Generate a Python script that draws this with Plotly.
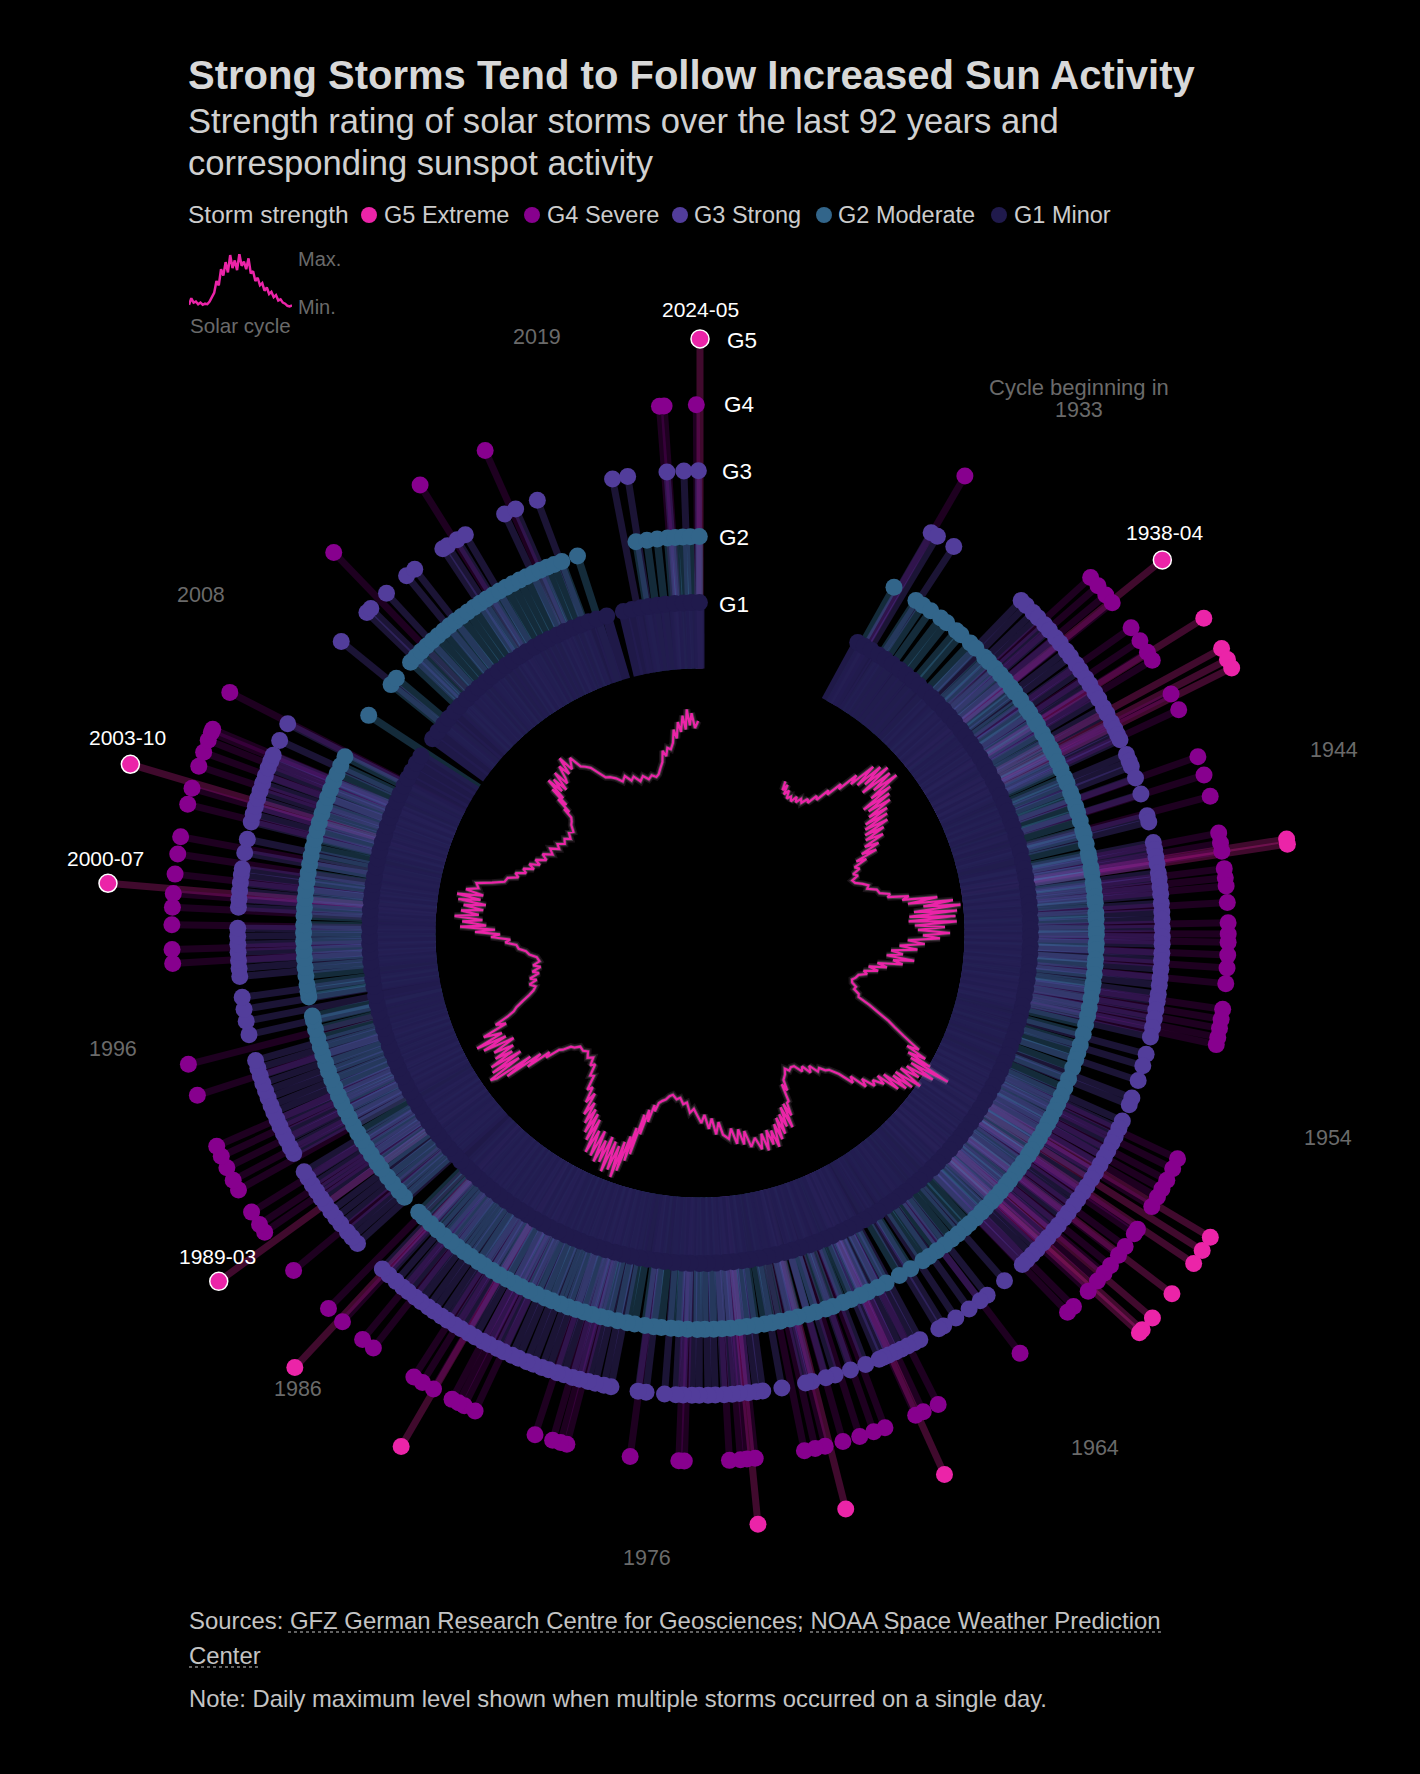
import plotly.graph_objects as go

W = 1420
H = 1774

# storm dates as angle on the circle, degrees clockwise from the top
storm_g5 = [58.0, 61.4, 62.6, 63.5, 80.9, 81.4, 120.8, 122.3, 123.8, 127.4, 130.4, 131.9, 132.3,
            155.7, 165.8, 174.4, 210.2, 223.0]
storm_g5_dated = [51.1, 234.1, 274.8, 286.5, 360.0]

storm_g4 = [30.1, 47.7, 48.9, 50.2, 51.3, 54.7, 56.4, 57.9, 58.9, 63.1, 65.0, 70.5, 72.6, 75.0, 79.1, 80.2, 81.1,
            83.0, 84.0, 84.9, 86.7, 88.9, 90.1, 91.0, 92.4, 93.8, 95.5, 98.3, 99.4, 100.4, 101.4, 102.2,
            115.3, 116.5, 117.9, 119.0, 120.0, 121.2, 124.1, 124.7, 126.4, 127.6, 129.0, 130.1, 131.2, 132.7,
            135.0, 135.9, 142.7, 153.2, 155.0, 155.9, 159.5, 160.8, 162.4, 164.3, 166.3, 167.4, 168.6,
            174.0, 174.9, 175.6, 176.8, 181.7, 182.3, 187.6, 194.6, 195.3, 196.2, 198.2,
            205.2, 206.5, 207.2, 208.0, 210.3, 211.7, 212.8, 218.2, 219.7, 222.6, 224.7, 230.3,
            235.5, 236.5, 238.1, 240.9, 242.1, 243.6, 245.0, 246.2, 252.1, 255.6, 266.7, 268.2,
            270.9, 272.8, 274.3, 276.4, 278.6, 280.5, 284.1, 285.9, 288.4, 290.0, 291.4, 292.3, 292.7,
            297.1, 316.1, 328.0, 336.0, 355.6, 356.1, 359.6]

storm_g3 = [30.0, 30.9, 33.3,
            44.0, 44.9, 46.1, 47.0, 48.2, 49.1, 50.3, 51.2, 52.4, 53.3, 54.5, 55.4, 56.6, 57.5, 58.7, 59.6, 60.8,
            61.7, 62.9, 63.8, 64.6, 65.3, 67.3, 68.2, 68.9, 70.4, 72.5, 75.3, 76.1,
            78.7, 79.6, 80.5, 81.4, 82.5, 83.3, 84.3, 85.2, 86.3, 87.4, 88.3, 89.4, 90.5, 91.4, 92.5, 93.4, 94.5,
            95.6, 96.5, 97.6, 98.5, 99.6, 100.7, 101.8, 103.0, 105.2, 106.7, 108.6, 110.9, 111.8,
            114.0, 115.0, 116.1, 117.0, 118.1, 119.0, 120.1, 121.2, 122.1, 123.2, 124.1, 125.2, 126.1, 127.2,
            128.1, 129.2, 130.1, 131.2, 132.1, 133.2, 134.1, 135.0, 135.8,
            138.8, 141.6, 142.7, 144.4, 146.4, 148.2, 148.9,
            151.6, 152.4, 153.3, 154.2, 155.0, 155.9, 156.6, 157.2, 159.0, 161.0, 163.0, 164.2, 166.0, 166.8, 169.8,
            172.2, 173.0, 174.0, 175.1, 176.0, 177.0, 178.1, 179.0, 180.1, 181.0, 182.1, 183.0, 184.4, 186.7, 187.7,
            191.1, 192.0, 193.1, 194.0, 195.1, 196.0, 197.1, 198.0, 199.1, 200.0, 201.1, 202.0, 203.1, 204.0, 205.1,
            206.0, 207.1, 208.0, 209.1, 210.0, 211.1, 212.0, 213.1, 214.0, 215.1, 216.0, 217.1, 218.0, 219.1, 220.0,
            221.1, 222.3, 223.4,
            227.8, 228.8, 229.7, 231.0, 232.0, 233.0, 234.1, 235.0, 236.0, 237.0, 238.0, 238.9,
            241.5, 242.4, 243.4, 244.3, 245.3, 246.2, 247.2, 248.1, 249.1, 250.0, 251.0, 252.0, 253.0, 254.0,
            257.3, 259.0, 260.5, 262.0, 264.6, 265.6, 266.6, 267.6, 268.6, 269.6, 270.6,
            273.2, 274.2, 275.2, 276.2, 277.2, 278.0, 280.0, 281.7,
            283.9, 284.9, 285.9, 286.9, 287.9, 288.9, 289.9, 290.9, 291.8, 292.6, 294.6, 296.9,
            309.1, 313.9, 314.6, 317.3, 320.6, 321.9, 326.2, 326.9, 328.3, 329.5, 335.0, 336.5, 339.4,
            349.1, 351.0, 355.9, 358.0, 359.8]

storm_g2 = [29.3,
            33.0, 34.2, 35.6, 37.4, 38.5, 40.3, 41.2, 43.0, 44.1, 45.9, 46.8, 48.1, 49.3, 50.4, 51.7, 52.6, 54.0, 55.5,
            56.3, 57.6, 58.4, 59.8, 61.0, 62.2, 63.1, 64.4, 65.6, 66.9, 67.8, 69.2, 70.1, 71.4, 72.3, 73.6, 74.9, 75.7,
            77.0, 78.4, 79.2, 80.5, 81.4, 82.7, 83.6, 84.8, 85.7, 87.1, 88.0, 89.3, 90.2, 91.5, 92.4, 93.8, 94.7, 96.0,
            97.3, 98.2, 99.5, 100.9, 102.1, 103.4, 104.8, 106.4, 107.6, 108.6, 109.9, 111.6, 113.0, 114.3, 115.5, 116.6, 117.8,
            118.7, 119.9, 121.1, 122.0, 123.2, 124.1, 125.4, 126.5, 127.4, 128.6, 129.5, 130.7, 131.8, 132.7, 133.9,
            134.8, 136.0, 137.2, 138.1, 139.4, 140.6, 141.9, 143.3, 144.7, 145.8, 147.9, 149.8,
            152.0, 153.4, 154.9, 156.1, 157.6, 158.8, 160.4, 161.5, 163.0, 164.2, 165.7, 166.9, 168.3, 169.5, 170.6,
            171.9, 173.2, 174.3, 175.6, 176.8, 178.0, 179.3, 180.4, 181.8, 183.1, 184.2, 185.6, 186.7, 188.0, 189.5,
            190.6, 192.0, 193.4, 194.5, 195.8, 197.0, 198.2, 199.4, 200.6, 201.9, 203.0, 204.3, 205.5, 206.8, 207.9,
            209.1, 210.4, 211.6, 212.9, 214.0, 215.3, 216.5, 217.7, 218.9, 220.2, 221.5, 222.8, 224.2, 225.2,
            228.2, 229.4, 230.8, 232.0, 233.5, 234.6, 236.0, 237.2, 238.5, 239.7, 240.9, 242.2, 243.4, 244.7, 245.8,
            247.1, 248.3, 249.6, 250.8, 252.1, 253.3, 254.6, 255.9, 257.2, 257.9,
            260.7, 261.5, 262.5, 263.8, 265.0, 266.3, 267.5, 268.8, 270.0, 271.2, 272.5, 273.7, 275.0, 276.2, 277.5,
            278.7, 280.0, 281.2, 282.5, 283.7, 285.0, 286.2, 287.5, 288.7, 290.0, 291.2, 292.5, 293.7, 295.0, 296.4,
            303.3, 308.8, 310.0,
            313.1, 314.2, 315.3, 316.4, 317.5, 318.6, 319.7, 320.8, 321.9, 323.0, 324.1, 325.2, 326.3, 327.4, 328.5,
            329.6, 330.7, 331.8, 332.9, 334.0, 335.1, 336.2, 337.3, 338.4, 339.6, 342.0,
            350.7, 352.3, 353.8, 355.3, 356.4, 357.5, 358.6, 359.9]

storm_g1 = [28.5, 29.8, 31.2, 32.7, 34.1, 35.6, 37.2, 38.6, 40.1, 41.5, 43.1, 44.6, 46.0, 47.6, 49.0, 50.5, 52.1, 53.5,
            55.0, 56.4, 58.0, 59.5, 60.9, 62.5, 63.9, 65.4, 67.0, 68.4, 69.9, 71.3, 72.9, 74.4, 75.8, 77.4, 78.8, 80.3,
            81.9, 83.3, 84.8, 86.2, 87.8, 89.3, 90.7, 92.3, 93.7, 95.2, 96.8, 98.2, 99.7, 101.1, 102.7, 104.2, 105.6,
            107.2, 108.6, 110.1, 111.7, 113.1, 114.6, 116.0, 117.6, 119.1, 120.5, 122.1, 123.5, 125.0, 126.6, 128.0,
            129.5, 130.9, 132.5, 134.0, 135.4, 137.0, 138.4, 139.9, 141.5, 142.9, 144.4, 145.8, 147.4, 148.9, 150.3,
            151.9, 153.3, 154.8, 156.4, 157.8, 159.3, 160.7, 162.3, 163.8, 165.2, 166.8, 168.2, 169.7, 171.3, 172.7,
            174.2, 175.6, 177.2, 178.7, 180.1, 181.7, 183.1, 184.6, 186.2, 187.6, 189.1, 190.5, 192.1, 193.6, 195.0,
            196.6, 198.0, 199.5, 201.1, 202.5, 204.0, 205.4, 207.0, 208.5, 209.9, 211.5, 212.9, 214.4, 216.0, 217.4,
            218.9, 220.3, 221.9, 223.4, 224.8, 226.4, 227.8, 229.3, 230.9, 232.3, 233.8, 235.2, 236.8, 238.3, 239.7,
            241.3, 242.7, 244.2, 245.8, 247.2, 248.7, 250.1, 251.7, 253.2, 254.6, 256.2, 257.6, 259.1, 260.7, 262.1,
            263.6, 265.0, 266.6, 268.1, 269.5, 271.1, 272.5, 274.0, 275.6, 277.0, 278.5, 279.9, 281.5, 283.0, 284.4,
            286.0, 287.4, 288.9, 290.5, 291.9, 293.4, 294.8, 296.4, 297.9, 299.3, 300.9, 302.4,
            306.0, 307.5, 309.1, 310.5, 312.0, 313.4, 315.0, 316.5, 317.9, 319.5, 320.9, 322.4, 324.0, 325.4, 326.9,
            328.3, 329.9, 331.4, 332.8, 334.4, 335.8, 337.3, 338.9, 340.3, 341.8, 343.6,
            346.6, 348.1, 349.7, 351.1, 352.6, 354.0, 355.6, 357.1, 358.5, 359.9]

# sunspot line, same angle scale
sun_theta = [29.4, 30, 30.6, 31.2, 32, 32.8, 33.7, 34.6, 35.4, 36.2, 37, 37.9, 38.8, 39.6, 40.4, 41.2, 42, 42.6, 43.4, 44,
             44.8, 45.4, 46.2, 46.8, 47.4, 48, 48.6, 49.2, 49.9, 50.6, 51.2, 51.8, 52.4, 53, 53.6, 54.2, 54.9, 55.6, 56.2,
             56.8, 57.4, 58, 58.8, 59.4, 60, 60.8, 61.6, 62.4, 63.2, 64, 64.7, 65.4, 66, 67, 68, 69, 70, 71, 72.1, 73.2,
             74.2, 75.2, 76.2, 77.5, 78.4, 79.2, 80, 80.7, 81.4, 82, 82.6, 83.2, 83.8, 84.4, 85, 85.6, 86.2, 86.8, 87.4, 88,
             88.6, 89.2, 90, 90.6, 91.3, 92, 92.8, 93.6, 94.4, 95.2, 96, 96.8, 97.4, 98, 98.8, 99.6, 100.4, 101.2, 102, 103,
             103.8, 104.8, 106, 107, 108, 109, 110, 111, 112, 113, 114, 115, 115.8, 116.8, 117.6, 118.1, 118.6, 119.2,
             119.8, 120.2, 120.6, 121, 121.6, 122.2, 122.8, 123.4, 124, 124.8, 125.4, 126, 126.4, 127, 127.6, 128.2, 128.8,
             129.4, 130.4, 131.2, 132, 132.8, 133.6, 134.4, 135.4, 136.7, 137.6, 138.6, 139.6, 140.6, 141.6, 142.6, 143.6,
             144.8, 145.9, 147, 148, 149, 150.4, 151, 151.6, 152.2, 152.9, 153.4, 154, 154.5, 155.2, 155.8, 156.4, 157, 157.6,
             158.2, 158.8, 159.6, 160.2, 160.8, 161.4, 162.4, 163, 164, 165, 166.5, 167.4, 168.2, 169, 170, 171, 172, 173.5,
             174.4, 175.4, 176.4, 177.4, 178.6, 179.6, 180.6, 182, 183.2, 184.4, 185.6, 186.8, 188, 189.5, 190.6, 191.6,
             192.6, 193.6, 194.2, 194.8, 195.4, 196, 196.6, 197, 197.6, 198, 198.4, 198.8, 199.4, 199.8, 200.2, 200.8, 201.4,
             202, 202.6, 203.2, 203.8, 204.4, 205, 205.6, 206.2, 207, 207.6, 208.2, 208.8, 209.4, 210, 210.6, 211.2, 211.8,
             212.6, 213.2, 214, 214.8, 215.7, 216.6, 217.6, 218.6, 219.6, 220.6, 222, 223.4, 224.8, 226.5, 227.6, 228.6,
             229.6, 230.3, 231, 231.6, 232.2, 232.8, 233.4, 233.9, 234.4, 234.9, 235.4, 236, 236.6, 237.2, 237.8, 238.4, 239,
             239.8, 240.6, 241.4, 242, 242.6, 243.2, 244.3, 245, 245.8, 246.5, 247.2, 248, 249, 250, 251, 252, 253.2, 254, 255,
             256, 257, 258, 259, 260, 261.6, 262.8, 264, 265, 266.3, 267.2, 268, 268.9, 269.6, 270.3, 270.9, 271.5, 272, 272.8,
             273.4, 274, 274.7, 275.4, 276, 276.8, 277.4, 278, 278.6, 279.2, 279.8, 280.6, 281.4, 282.6, 283.6, 284.7, 286,
             287, 288, 289, 290, 291, 292, 293, 294, 295.4, 296.6, 298, 299.4, 300.8, 302, 303.4, 304.8, 306, 307.4, 308.6,
             310, 311, 311.9, 312.4, 312.8, 313.3, 313.8, 314.2, 314.6, 315.2, 315.8, 316.4, 317, 317.8, 318.4, 319, 319.8,
             320.6, 321.2, 322, 323.4, 324.4, 325.4, 326.5, 327.6, 328.8, 330, 331.5, 333, 334.4, 335.8, 337, 338.6, 340,
             341.6, 343, 344.4, 345.4, 346.6, 347.6, 348.4, 349.2, 350, 351, 351.9, 352.6, 353.2, 354, 354.6, 355.4, 356,
             356.6, 357.2, 357.8, 358.6, 359.5]
sun_value = [174, 165, 172, 162, 168, 160, 164, 160, 167, 162, 168, 165, 172, 169, 180, 177, 192, 188, 205, 200,
             222, 212, 240, 216, 245, 222, 250, 215, 248, 225, 252, 218, 240, 205, 235, 208, 232, 205, 225,
             198, 222, 195, 219, 192, 212, 190, 208, 186, 200, 180, 195, 172, 182, 168, 172, 164, 168, 161, 163, 170,
             175, 173, 182, 184, 194, 191, 212, 205, 240, 210, 255, 225, 262, 215, 258, 210, 256, 209, 257, 215,
             245, 218, 250, 223, 240, 208, 225, 200, 218, 192, 204, 188, 216, 195, 205, 180, 190, 172, 182, 168,
             172, 164, 162, 159, 160, 165, 164, 170, 171, 184, 195, 208, 216, 228, 240, 248, 236, 258,
             240, 266, 245, 289, 248, 275, 246, 262, 242, 268, 240, 262, 240, 258, 232, 252, 228,
             238, 227, 232, 218, 226, 208, 214, 198, 188, 186, 180, 182, 172, 178, 168, 172,
             163, 162, 164, 160, 165, 169, 180, 172, 190, 191, 204, 190, 215, 192, 212, 198, 218, 200,
             222, 205, 228, 210, 224, 208, 228, 210, 225, 212, 220, 203, 216, 200, 214, 198, 208, 203,
             190, 202, 186, 196, 182, 190, 184, 176, 180, 170, 172, 166, 168, 164, 166, 170,
             172, 175, 184, 178, 196, 184, 210, 190, 232, 205, 240, 215, 252, 222, 260, 228, 254,
             225, 258, 222, 250, 228, 252, 220, 248, 222, 247, 212, 236, 208, 230, 205, 222, 200,
             215, 192, 204, 188, 193, 178, 180, 168, 172, 164, 168, 163, 166, 165, 170, 172,
             180, 183, 198, 192, 218, 200, 240, 210, 250, 256, 220, 250, 215, 248, 222, 240, 218,
             238, 214, 246, 220, 251, 222, 240, 214, 224, 210, 202, 198, 190, 182, 176, 173, 178, 170, 176,
             166, 172, 163, 170, 163, 165, 172, 175, 182, 184, 195, 190, 209, 200, 225, 205, 240, 214, 238,
             218, 246, 222, 240, 218, 238, 216, 244, 222, 246, 220, 238, 226, 229, 214, 202, 200,
             190, 194, 184, 188, 178, 184, 174, 180, 170, 176, 167, 172, 164, 168, 162, 165, 160, 165, 162,
             168, 170, 173, 184, 178, 195, 185, 206, 192, 215, 198, 212, 196, 216, 200, 205, 218,
             206, 224, 208, 218, 205, 202, 198, 190, 182, 180, 176, 170, 174, 167, 170, 163, 167,
             162, 165, 162, 164, 170, 175, 186, 180, 188, 186, 192, 205, 196, 212, 202, 218, 204,
             224, 208, 220, 205, 212]

# small cycle shape in the key
key_cycle = [0.06, 0.18, 0.1, 0.12, 0.07, 0.1, 0.06, 0.08, 0.07, 0.12, 0.2, 0.28, 0.5, 0.42, 0.72, 0.6, 0.85, 0.66, 0.98,
             0.74, 0.88, 0.7, 1.0, 0.78, 0.86, 0.72, 0.92, 0.64, 0.68, 0.5, 0.56, 0.42, 0.46, 0.32, 0.38, 0.26, 0.3, 0.2,
             0.24, 0.14, 0.16, 0.1, 0.08, 0.04, 0.03, 0.05]

level_colors = {5: "#eb24a8", 4: "#87008e", 3: "#523d9b", 2: "#32658a", 1: "#201a4c"}
spoke_colors = {5: "rgba(235,36,168,0.27)", 4: "rgba(150,0,160,0.2)", 3: "rgba(96,72,190,0.28)",
                2: "rgba(60,125,170,0.34)", 1: "rgba(34,28,80,0.9)"}
spoke_widths = {5: 7, 4: 7, 3: 7, 2: 7.5, 1: 10}
storms = {1: storm_g1, 2: storm_g2, 3: storm_g3, 4: storm_g4, 5: storm_g5 + storm_g5_dated}

fig = go.Figure()

# spokes go one trace each so the overlaps build up, strongest storms at the back
spokes = []
for level in [5, 4, 3, 2, 1]:
    for angle in storms[level]:
        spokes.append(go.Scatterpolar(theta=[angle, angle], r=[0, level], mode="lines", subplot="polar",
                                      line=dict(color=spoke_colors[level], width=spoke_widths[level]),
                                      hoverinfo="skip", showlegend=False))
fig.add_traces(spokes)

# dots
for level in [1, 2, 3, 4]:
    fig.add_trace(go.Scatterpolar(theta=storms[level], r=[level] * len(storms[level]), mode="markers", subplot="polar",
                                  marker=dict(color=level_colors[level], size=17), name=f"G{level}", showlegend=False))
fig.add_trace(go.Scatterpolar(theta=storm_g5, r=[5] * len(storm_g5), mode="markers", subplot="polar",
                              marker=dict(color=level_colors[5], size=17), name="G5", showlegend=False))
fig.add_trace(go.Scatterpolar(theta=storm_g5_dated, r=[5] * len(storm_g5_dated), mode="markers", subplot="polar",
                              marker=dict(color=level_colors[5], size=18, line=dict(color="white", width=1.5)),
                              name="G5 dated", showlegend=False))

# sunspot line with a soft glow behind it
for color, width in [("rgba(255,190,235,0.10)", 7), ("rgba(255,210,240,0.2)", 4), (level_colors[5], 2.2)]:
    fig.add_trace(go.Scatterpolar(theta=sun_theta, r=sun_value, mode="lines", subplot="polar2",
                                  line=dict(color=color, width=width), hoverinfo="skip", showlegend=False))

# key
fig.add_trace(go.Scatter(y=key_cycle, mode="lines", xaxis="x", yaxis="y",
                         line=dict(color=level_colors[5], width=2.5), hoverinfo="skip", showlegend=False))


def label(text, x, y, size=19, color="#ffffff", anchor="center", weight=None):
    fig.add_annotation(text=text, x=x / W, y=1 - y / H, xref="paper", yref="paper", showarrow=False,
                       xanchor=anchor, yanchor="middle", align=anchor,
                       font=dict(family="Liberation Sans", size=size, color=color, weight=weight))


def dot(x, y, color):
    fig.add_shape(type="circle", xref="paper", yref="paper", x0=(x - 8) / W, x1=(x + 8) / W,
                  y0=1 - (y + 8) / H, y1=1 - (y - 8) / H, fillcolor=color, line_width=0)


label("Strong Storms Tend to Follow Increased Sun Activity", 186, 75, size=40, color="#d8d8d8", anchor="left", weight=700)
label("Strength rating of solar storms over the last 92 years and", 186, 121, size=34.6, color="#d0d0d0", anchor="left")
label("corresponding sunspot activity", 186, 163, size=34.6, color="#d0d0d0", anchor="left")

label("Storm strength", 186, 215, size=24.5, color="#cccccc", anchor="left")
for name, level, x_dot, x_text in [("G5 Extreme", 5, 369, 382), ("G4 Severe", 4, 532, 545), ("G3 Strong", 3, 680, 692),
                                   ("G2 Moderate", 2, 824, 836), ("G1 Minor", 1, 999, 1012)]:
    dot(x_dot, 215, level_colors[level])
    label(name, x_text, 215, size=23.5, color="#cccccc", anchor="left")

label("Max.", 296, 259, size=20, color="#6a6a6a", anchor="left")
label("Min.", 296, 307, size=20, color="#6a6a6a", anchor="left")
label("Solar cycle", 188, 326, size=20.6, color="#6a6a6a", anchor="left")

for name, x, y in [("G5", 742, 341), ("G4", 739, 405), ("G3", 737, 471), ("G2", 734, 537), ("G1", 734, 604)]:
    label(name, x, y, size=22.5)

for name, x, y in [("2024-05", 700, 310), ("1938-04", 1164, 532), ("2003-10", 127, 737),
                   ("2000-07", 105, 858), ("1989-03", 217, 1256)]:
    label(name, x, y, size=21)

label("Cycle beginning in", 1079, 387, size=22, color="#6a6a6a")
for name, x, y in [("1933", 1079, 410), ("1944", 1334, 750), ("1954", 1328, 1138), ("1964", 1095, 1448),
                   ("1976", 647, 1558), ("1986", 298, 1389), ("1996", 113, 1049), ("2008", 201, 595), ("2019", 537, 337)]:
    label(name, x, y, size=21.5, color="#6a6a6a")

label("Sources: GFZ German Research Centre for Geosciences; NOAA Space Weather Prediction", 187, 1620, size=23.9, color="#c4c4c4", anchor="left")
label("Center", 187, 1655, size=23.9, color="#c4c4c4", anchor="left")
label("Note: Daily maximum level shown when multiple storms occurred on a single day.", 187, 1698, size=23.8, color="#c4c4c4", anchor="left")
for x0, x1, y in [(288, 798, 1632), (810, 1162, 1632), (189, 261, 1667)]:
    fig.add_shape(type="line", xref="paper", yref="paper", x0=x0 / W, x1=x1 / W, y0=1 - y / H, y1=1 - y / H,
                  line=dict(color="#c4c4c4", width=1.2, dash="dot"))

# both rings share one square, 660 px radius around the chart centre
polar_x = [40 / W, 1360 / W]
polar_y = [(H - 933 - 660) / H, (H - 933 + 660) / H]
hidden_angle = dict(visible=False, direction="clockwise", rotation=90, thetaunit="degrees", showgrid=False)

fig.update_layout(
    width=W,
    height=H,
    margin=dict(l=0, r=0, t=0, b=0),
    paper_bgcolor="black",
    plot_bgcolor="black",
    showlegend=False,
    polar=dict(domain=dict(x=polar_x, y=polar_y), bgcolor="rgba(0,0,0,0)", angularaxis=hidden_angle,
               radialaxis=dict(visible=False, range=[-4.015, 6], showgrid=False)),
    polar2=dict(domain=dict(x=polar_x, y=polar_y), bgcolor="rgba(0,0,0,0)", angularaxis=hidden_angle,
                radialaxis=dict(visible=False, range=[0, 660], showgrid=False)),
    xaxis=dict(visible=False, domain=[189 / W, 292 / W], range=[0, 45]),
    yaxis=dict(visible=False, domain=[(H - 308) / H, (H - 254) / H], range=[0, 1]),
)

fig.write_html("out.html", config={"displayModeBar": False},
               post_script="document.body.style.margin='0';document.body.style.background='#000';")
